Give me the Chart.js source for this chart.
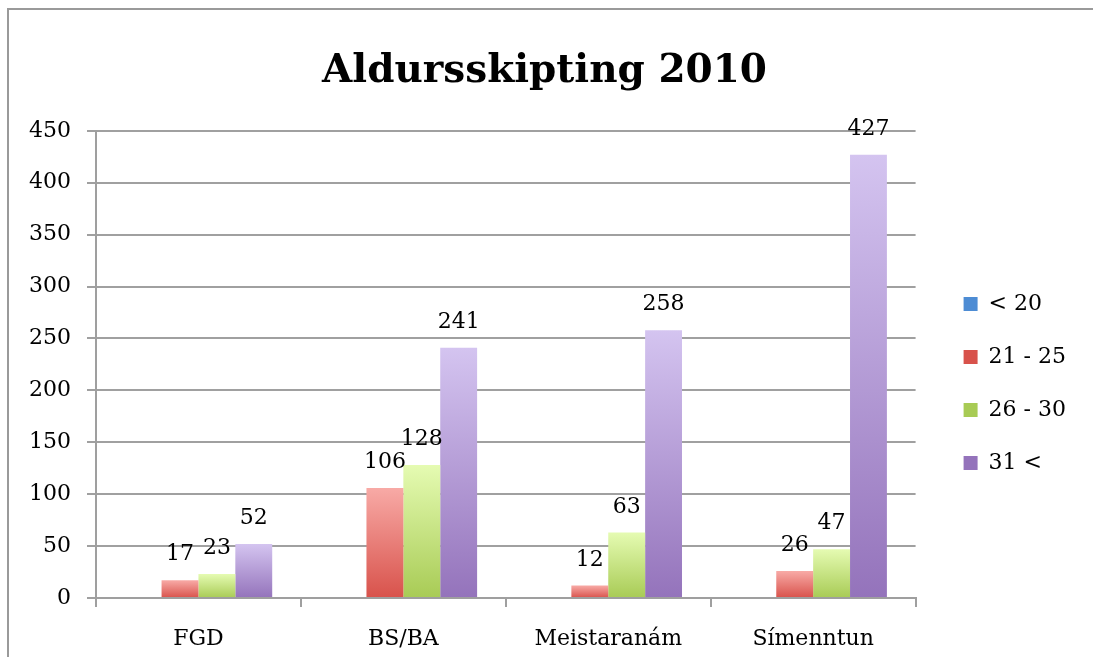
<!DOCTYPE html>
<html>
<head>
<meta charset="utf-8">
<script src="https://cdn.jsdelivr.net/npm/chart.js@4.4.1/dist/chart.umd.min.js"></script>
<style>
  html, body { margin:0; padding:0; background:#fff; }
  #wrap { position:relative; width:1093px; height:657px; overflow:hidden; }
  #frame { position:absolute; left:7px; top:8px; width:1100px; height:700px;
           border-left:2px solid #9a9a9a; border-top:2px solid #9a9a9a; }
  canvas { position:absolute; left:0; top:0; }
</style>
</head>
<body>
<div id="wrap">
  <div id="frame"></div>
  <canvas id="chart" width="1093" height="657"></canvas>
</div>
<script>
// data
const categories = ['FGD', 'BS/BA', 'Meistaranám', 'Símenntun'];
const seriesNames = ['< 20', '21 - 25', '26 - 30', '31 <'];
const under20 = [0, 0, 0, 0];
const age21to25 = [17, 106, 12, 26];
const age26to30 = [23, 128, 63, 47];
const over31 = [52, 241, 258, 427];
const yTicks = [0, 50, 100, 150, 200, 250, 300, 350, 400, 450];

// top / bottom colours of each bar gradient
const shades = [
  ['#a9cef6', '#4d8cd4'],
  ['#f8aaa6', '#d8524b'],
  ['#e5fbb2', '#a8cb55'],
  ['#d4c4f0', '#9473bb']
];

const FONT = '"DejaVu Serif", serif';

function barGradient(i){
  return (c) => {
    const chart = c.chart;
    const y = chart.scales && chart.scales.y;
    if (!chart.chartArea || !y || c.raw === undefined) return shades[i][1];
    const top = y.getPixelForValue(c.raw);
    const base = y.getPixelForValue(0);
    if (base - top < 1) return shades[i][1];
    const g = chart.ctx.createLinearGradient(0, top, 0, base);
    g.addColorStop(0, shades[i][0]);
    g.addColorStop(1, shades[i][1]);
    return g;
  };
}

// value labels above bars
const valueLabels = {
  id: 'valueLabels',
  afterDatasetsDraw(chart){
    const ctx = chart.ctx;
    ctx.save();
    ctx.font = '22px ' + FONT;
    ctx.fillStyle = '#000';
    ctx.textAlign = 'center';
    ctx.textBaseline = 'alphabetic';
    chart.data.datasets.forEach((ds, di) => {
      if (di === 0) return;
      chart.getDatasetMeta(di).data.forEach((bar, i) => {
        ctx.fillText(ds.data[i], bar.x, bar.y - 20);
      });
    });
    ctx.restore();
  }
};

const seriesData = [under20, age21to25, age26to30, over31];

new Chart(document.getElementById('chart'), {
  type: 'bar',
  data: {
    labels: categories,
    datasets: seriesNames.map((name, i) => ({
      label: name,
      data: seriesData[i],
      backgroundColor: barGradient(i),
      borderWidth: 0,
      categoryPercentage: 0.72,
      barPercentage: 1.0
    }))
  },
  options: {
    responsive: false,
    animation: false,
    layout: { padding: { left: 13, right: 17, bottom: 0 } },
    plugins: {
      title: {
        display: true,
        text: 'Aldursskipting 2010',
        color: '#000',
        font: { family: FONT, size: 39, weight: 'bold' },
        padding: { top: 48, bottom: 36 }
      },
      legend: {
        position: 'right',
        title: { display: true, text: ' ', font: { size: 10 }, padding: { top: 49, bottom: 49 } },
        labels: {
          color: '#000',
          font: { family: FONT, size: 22 },
          boxWidth: 14,
          boxHeight: 14,
          padding: 31,
          generateLabels(chart){
            return chart.data.datasets.map((ds, i) => ({
              text: ds.label,
              fillStyle: shades[i][1],
              strokeStyle: shades[i][1],
              fontColor: '#000',
              lineWidth: 0,
              datasetIndex: i,
              hidden: false
            }));
          }
        }
      },
      tooltip: { enabled: false }
    },
    scales: {
      x: {
        grid: { display: true, drawOnChartArea: false, offset: true, tickLength: 9, color: '#9f9f9f', lineWidth: 2 },
        border: { color: '#9f9f9f', width: 2 },
        ticks: { color: '#000', font: { family: FONT, size: 22 }, padding: 19 },
        afterFit(scale){ scale.height = 59; }
      },
      y: {
        min: 0,
        max: 450,
        afterBuildTicks(scale){ scale.ticks = yTicks.map(v => ({ value: v })); },
        grid: { color: '#a0a0a0', lineWidth: 2, tickLength: 9 },
        border: { color: '#9f9f9f', width: 2 },
        ticks: { color: '#000', font: { family: FONT, size: 22 }, padding: 16 }
      },
      // empty spacer between the plot and the legend
      gap: {
        type: 'linear',
        position: 'right',
        display: true,
        grid: { display: false, drawOnChartArea: false },
        border: { display: false },
        ticks: { display: false },
        afterFit(scale){ scale.width = 17; }
      }
    }
  },
  plugins: [valueLabels]
});
</script>
</body>
</html>
